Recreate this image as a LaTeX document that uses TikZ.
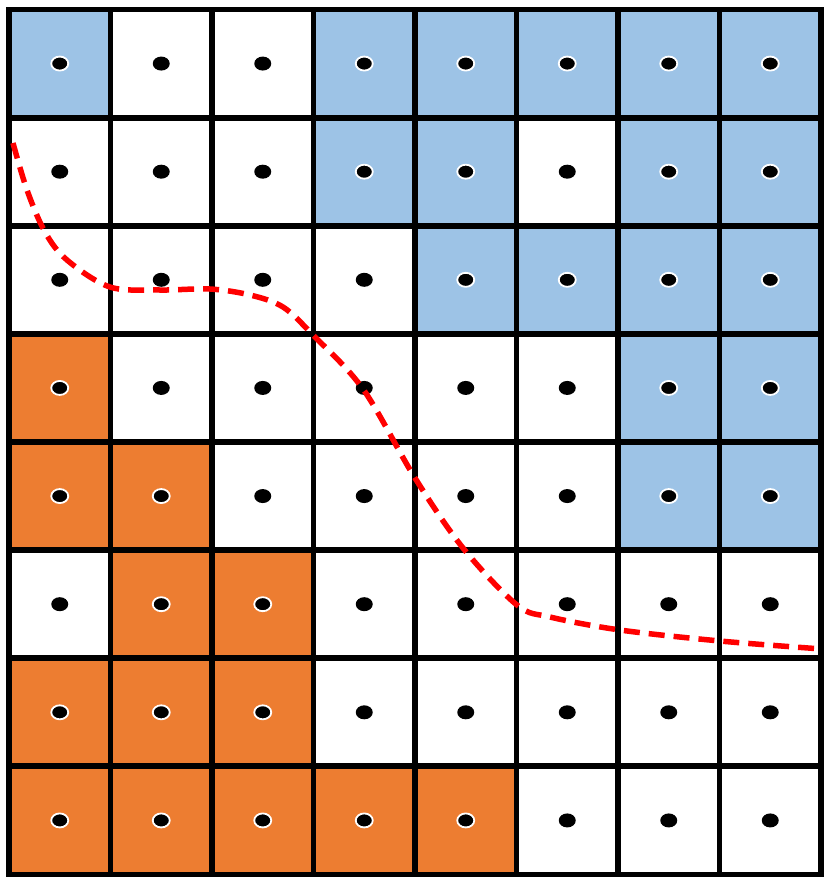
\documentclass[tikz,border=0pt]{standalone}
\definecolor{cblue}{HTML}{9DC3E6}
\definecolor{corange}{HTML}{ED7D31}
\tikzset{
  cellB/.style={fill=cblue},
  cellO/.style={fill=corange},
  cellW/.style={fill=white},
  dotB/.style={fill=black,draw=white,line width=1.8pt},
  dotO/.style={fill=black,draw=white,line width=1.8pt},
  dotW/.style={fill=black},
  gridline/.style={line width=5.8pt,black},
  boundary/.style={red,line width=5.5pt,dash pattern=on 16pt off 9pt}
}
\begin{document}
\begin{tikzpicture}[x=1pt,y=-1pt]
\useasboundingbox (0,0) rectangle (829,887);
\fill[white] (0,0) rectangle (829,887);
\foreach \r [count=\j from 0] in {
  {B,W,W,B,B,B,B,B},
  {W,W,W,B,B,W,B,B},
  {W,W,W,W,B,B,B,B},
  {O,W,W,W,W,W,B,B},
  {O,O,W,W,W,W,B,B},
  {W,O,O,W,W,W,W,W},
  {O,O,O,W,W,W,W,W},
  {O,O,O,O,O,W,W,W}}{
  \foreach \c [count=\i from 0] in \r {
    \path[cell\c] ({9+101.5*\i},{9.5+108.125*\j}) rectangle ({9+101.5*(\i+1)},{9.5+108.125*(\j+1)});
  }
}
\foreach \i in {1,...,7} {
  \draw[gridline] ({9+101.5*\i},9.5) -- ({9+101.5*\i},874.5);
  \draw[gridline] (9,{9.5+108.125*\i}) -- (821,{9.5+108.125*\i});
}
\draw[gridline] (9,9.5) rectangle (821,874.5);
\foreach \r [count=\j from 0] in {
  {B,W,W,B,B,B,B,B},
  {W,W,W,B,B,W,B,B},
  {W,W,W,W,B,B,B,B},
  {O,W,W,W,W,W,B,B},
  {O,O,W,W,W,W,B,B},
  {W,O,O,W,W,W,W,W},
  {O,O,O,W,W,W,W,W},
  {O,O,O,O,O,W,W,W}}{
  \foreach \c [count=\i from 0] in \r {
    \path[dot\c] ({9+101.5*(\i+0.5)},{9.5+108.125*(\j+0.5)}) ellipse [x radius=8.5pt, y radius=7pt];
  }
}
\draw[boundary] plot[smooth, tension=0.55] coordinates {
  (13,143) (27,190) (45,232) (67,260) (110,287) (160,290) (210,289)
  (250,295) (283,307) (313,335) (363,389) (415,478) (463,548)
  (517,605) (550,617) (620,630) (720,641) (822,649)};
\end{tikzpicture}
\end{document}
